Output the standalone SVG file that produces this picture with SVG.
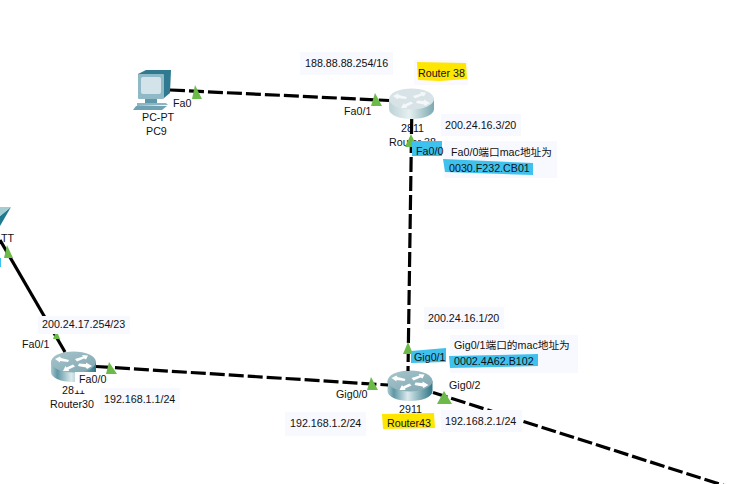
<svg xmlns="http://www.w3.org/2000/svg" width="735" height="484" viewBox="0 0 735 484">
<style>
text{font-family:"Liberation Sans",Arial,"Noto Sans CJK SC",sans-serif;font-size:10.7px;fill:#111}
.box{fill:#f8f8ff}
.cy{fill:#3fc1ee}
.ye{fill:#ffe600}
.l{fill:none;stroke:#000;stroke-width:3.2}
.d{stroke-dasharray:15 4}
.t{fill:#6cba4a}
</style>
<defs>
<linearGradient id="side" x1="0" x2="1" y1="0" y2="0"><stop offset="0" stop-color="#a9c9cf"/><stop offset=".14" stop-color="#5f97a4"/><stop offset=".45" stop-color="#dbeaec"/><stop offset=".72" stop-color="#84b0b9"/><stop offset="1" stop-color="#2f7486"/></linearGradient>
<linearGradient id="side2" x1="0" x2="1" y1="0" y2="0"><stop offset="0" stop-color="#bcd3d7"/><stop offset=".45" stop-color="#e6f0f0"/><stop offset="1" stop-color="#7ba8b2"/></linearGradient>
<linearGradient id="top" x1="0" x2="1" y1="0" y2="1"><stop offset="0" stop-color="#a8c6cd"/><stop offset="1" stop-color="#7fa6b0"/></linearGradient>
<path id="arrows" d="M4 7L9 4.500L10 6L18 8L17 10L9 9L9 10.500ZM37 3.500L31 3L32 4.500L24 7L26 9.500L33 6.500L35 7.500ZM12 19L18 19L17.500 17.500L24 14.500L22 12.500L15.500 15.500L14.500 14ZM41 14L36 17L35 15.500L27 14L28 11.500L35 12L35 10.500Z"/>
<g id="r1">
<path d="M0 10V20C0 26 10 30 22.500 30S45 26 45 20V10Z" fill="url(#side)"/>
<ellipse cx="22.500" cy="10" rx="22.500" ry="10.500" fill="url(#top)"/>
<use href="#arrows" fill="#fff"/>
</g>
<g id="r2">
<path d="M0 10V20C0 26 10 30 22.500 30S45 26 45 20V10Z" fill="url(#side2)"/>
<ellipse cx="22.500" cy="10" rx="22.500" ry="10.500" fill="#d7e3e7"/>
<use href="#arrows" fill="#f4f8f9"/>
</g>
</defs>
<rect width="735" height="484" fill="#fff"/>

<g id="PC9">
<path d="M138 74L146 70H171L170 93L164 98H138Z" fill="#2f7a90"/>
<rect x="138" y="74" width="26" height="25" rx="1" fill="#8fb9c6"/>
<rect x="141" y="77" width="20" height="17" rx="2" fill="#d3e3ea"/>
<path d="M145 99H157V103H145Z" fill="#5f98a8"/>
<path d="M137 103H166L168 105L137 106Z" fill="#8db4c0"/>
<path d="M136 106H167L162 110H133Z" fill="#6fa3b3"/>
<text x="142" y="121">PC-PT</text>
<text x="146" y="135">PC9</text>
</g>

<g id="Router38">
<rect x="414" y="60" width="54" height="25" fill="#f9f9ff"/>
<path class="ye" d="M417 62L466 63L467 79L440 81L418 80Z"/>
<use href="#r2" x="389" y="89"/>
<text x="418" y="77">Router 38</text>
<text x="401" y="132">2811</text>
<text x="389" y="146">Router 38</text>
</g>

<g id="Router30">
<use href="#r1" x="51" y="352"/>
<text x="62" y="394">2811</text>
<rect x="75" y="372" width="31" height="18.500" fill="#fff"/>
<text x="50" y="408">Router30</text>
</g>

<g id="Router43">
<path class="ye" d="M382 414L434 413L435 428L383 429Z"/>
<use href="#r1" x="387.500" y="371"/>
<text x="399" y="412.500">2911</text>
<text x="387" y="427">Router43</text>
</g>

<g id="switch-TT">
<path d="M0 216L11 207L0 226Z" fill="#1f7a90"/>
<path d="M0 207H11L0 216Z" fill="#a5cbd3"/>
<text x="1" y="242">TT</text>
<rect x="0" y="258" width="1" height="9" class="cy"/>
</g>

<g id="connectors">
<path class="l d" d="M170 90L389 100.500"/>
<path class="l d" d="M411.700 119L408 371"/>
<path class="l d" d="M96 366.500L388 385"/>
<path class="l d" d="M433 392.500L735 489"/>
<path class="l" d="M0 240L65 352"/>
</g>

<g id="link-lights">
<path class="t" d="M195 85L202 99H192Z"/>
<path class="t" d="M375 93L382 106H371Z"/>
<path class="t" d="M411 134L417 147H405Z"/>
<path class="t" d="M408 342L413 354H403Z"/>
<path class="t" d="M7 245L13 258H4Z"/>
<path class="t" d="M109 362L117 374H106Z"/>
<path class="t" d="M371 377L378 390H367Z"/>
<path class="t" d="M444 391L452 404H437Z"/>
</g>

<g id="labels">
<rect class="box" x="300" y="52" width="93" height="23"/>
<text x="305" y="67">188.88.88.254/16</text>
<text x="173" y="107">Fa0</text>
<text x="344" y="115">Fa0/1</text>
<rect class="box" x="441" y="114" width="80" height="22"/>
<text x="445" y="129">200.24.16.3/20</text>
<rect class="cy" x="412" y="141" width="30" height="15"/>
<text x="416" y="155">Fa0/0</text>
<rect class="box" x="444" y="141" width="113" height="37"/>
<text x="451" y="156">Fa0/0端口mac地址为</text>
<path class="cy" d="M443 159L533 163V175L445 172Z"/>
<text x="449" y="172">0030.F232.CB01</text>

<rect class="box" x="38" y="316" width="92" height="18"/>
<text x="42" y="328">200.24.17.254/23</text>
<path class="t" d="M53 339L55 334H58L60 339Z"/>
<text x="22" y="348">Fa0/1</text>
<text x="79" y="383">Fa0/0</text>
<rect class="box" x="100" y="388" width="80" height="22"/>
<text x="104" y="403">192.168.1.1/24</text>

<rect class="box" x="424" y="307" width="80" height="22"/>
<text x="428" y="322">200.24.16.1/20</text>
<path class="cy" d="M411 351L446 348V362L411 363Z"/>
<text x="414" y="361">Gig0/1</text>
<rect class="box" x="450" y="335" width="128" height="38"/>
<text x="454" y="349">Gig0/1端口的mac地址为</text>
<path class="cy" d="M449 356L538 354V366L450 368Z"/>
<text x="454" y="365">0002.4A62.B102</text>
<text x="336" y="398">Gig0/0</text>
<text x="449" y="389">Gig0/2</text>
<rect class="box" x="285" y="412" width="81" height="24"/>
<text x="290" y="427">192.168.1.2/24</text>
<rect class="box" x="441" y="410" width="81" height="22"/>
<text x="445" y="425">192.168.2.1/24</text>
</g>
</svg>
